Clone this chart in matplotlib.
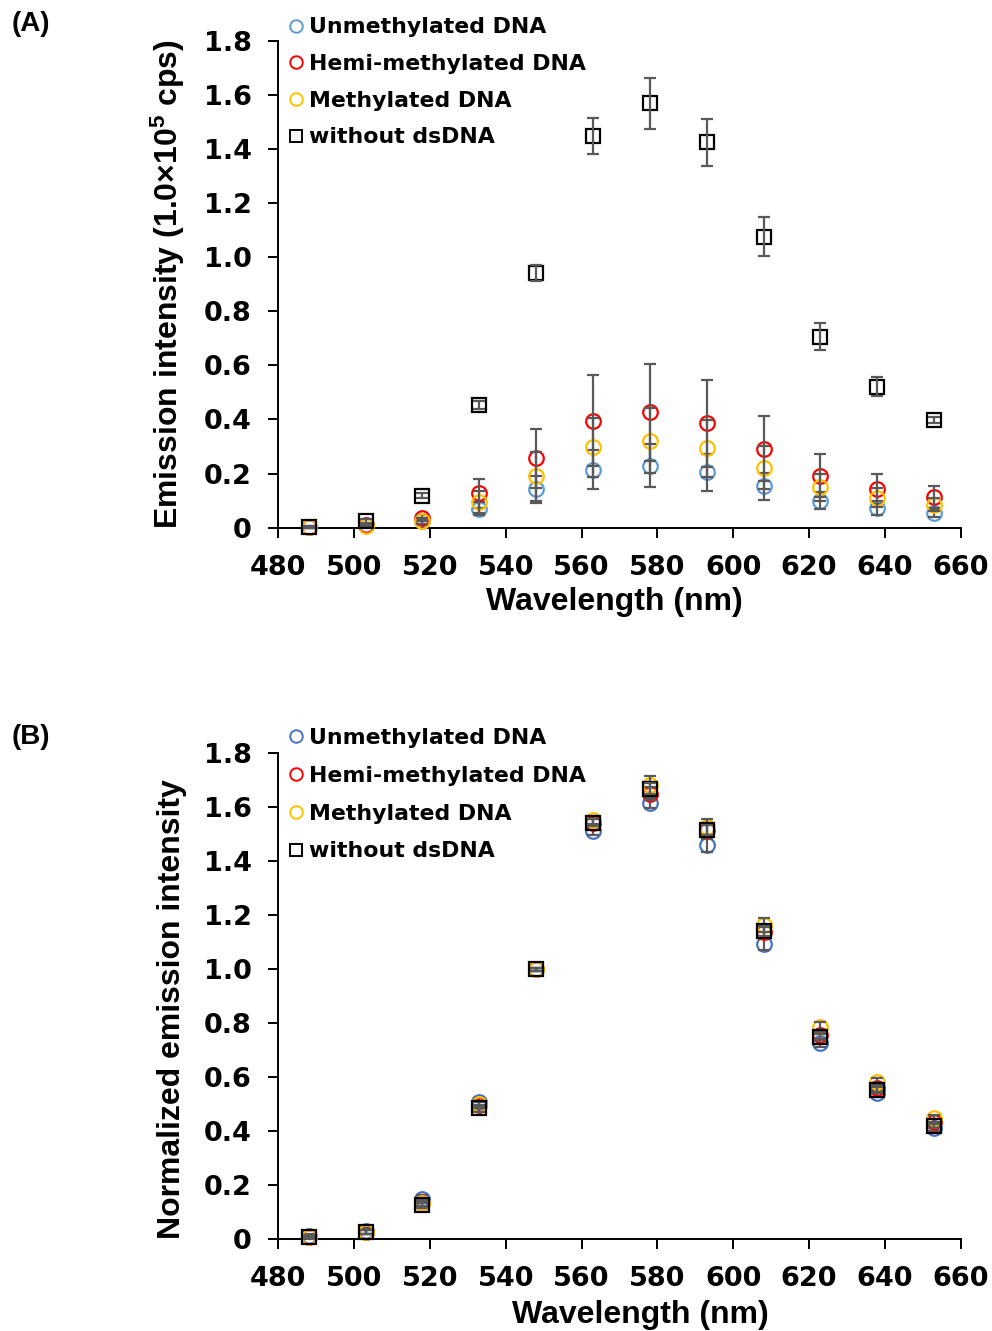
import matplotlib
matplotlib.use("Agg")
import matplotlib.pyplot as plt
from matplotlib.lines import Line2D

plt.rcParams['font.family'] = ['Liberation Sans', 'DejaVu Sans']
plt.rcParams['font.weight'] = 'bold'
plt.rcParams['mathtext.fontset'] = 'custom'
plt.rcParams['mathtext.rm'] = 'Liberation Sans:bold'
plt.rcParams['mathtext.bf'] = 'Liberation Sans:bold'
plt.rcParams['mathtext.default'] = 'bf'

# ---------------- data ----------------
wavelengths = [488, 503, 518, 533, 548, 563, 578, 593, 608, 623, 638, 653]
series_names = ["Unmethylated DNA", "Hemi-methylated DNA", "Methylated DNA", "without dsDNA"]

# Panel A: emission intensity (1.0x10^5 cps)
unmeth_A = [0.002, 0.008, 0.023, 0.069, 0.141, 0.214, 0.229, 0.204, 0.152, 0.100, 0.073, 0.054]
hemi_A = [0.003, 0.010, 0.035, 0.127, 0.257, 0.395, 0.426, 0.385, 0.292, 0.192, 0.144, 0.113]
meth_A = [0.002, 0.006, 0.025, 0.095, 0.190, 0.297, 0.322, 0.293, 0.222, 0.150, 0.110, 0.085]
without_A = [0.003, 0.024, 0.118, 0.454, 0.940, 1.448, 1.568, 1.424, 1.075, 0.706, 0.521, 0.398]

unmeth_A_err = [0.002, 0.004, 0.008, 0.024, 0.049, 0.073, 0.079, 0.068, 0.051, 0.032, 0.025, 0.016]
hemi_A_err = [0.003, 0.005, 0.012, 0.053, 0.109, 0.168, 0.180, 0.161, 0.119, 0.080, 0.056, 0.042]
meth_A_err = [0.002, 0.004, 0.010, 0.040, 0.090, 0.110, 0.120, 0.105, 0.080, 0.050, 0.035, 0.025]
without_A_err = [0.003, 0.008, 0.010, 0.015, 0.030, 0.067, 0.094, 0.087, 0.072, 0.049, 0.035, 0.012]

# Panel B: normalized emission intensity
unmeth_B = [0.012, 0.030, 0.147, 0.508, 1.000, 1.512, 1.616, 1.459, 1.093, 0.725, 0.540, 0.410]
hemi_B = [0.008, 0.026, 0.135, 0.495, 1.000, 1.543, 1.651, 1.515, 1.138, 0.756, 0.558, 0.434]
meth_B = [0.008, 0.027, 0.134, 0.499, 1.000, 1.552, 1.681, 1.527, 1.163, 0.786, 0.583, 0.447]
without_B = [0.006, 0.025, 0.126, 0.484, 1.000, 1.543, 1.669, 1.515, 1.142, 0.749, 0.552, 0.420]

unmeth_B_err = [0.008, 0.010, 0.015, 0.015, 0.005, 0.015, 0.020, 0.025, 0.020, 0.015, 0.012, 0.010]
hemi_B_err = [0.006, 0.008, 0.012, 0.012, 0.005, 0.015, 0.025, 0.020, 0.020, 0.015, 0.012, 0.010]
meth_B_err = [0.006, 0.008, 0.012, 0.012, 0.005, 0.015, 0.035, 0.030, 0.025, 0.020, 0.015, 0.012]
without_B_err = [0.005, 0.008, 0.012, 0.012, 0.005, 0.012, 0.020, 0.018, 0.018, 0.012, 0.010, 0.008]

x_ticks = [480, 500, 520, 540, 560, 580, 600, 620, 640, 660]
y_ticks = [0, 0.2, 0.4, 0.6, 0.8, 1.0, 1.2, 1.4, 1.6, 1.8]
y_ticklabels = ["0", "0.2", "0.4", "0.6", "0.8", "1.0", "1.2", "1.4", "1.6", "1.8"]

colors_A = ["#5B9BD5", "#FF0000", "#FFC000", "#000000"]
colors_B = ["#4472C4", "#FF0000", "#FFC000", "#000000"]
markers = ["o", "o", "o", "s"]
err_color = "#595959"

wide_font = ['DejaVu Sans']

fig = plt.figure(figsize=(9.92, 13.31), dpi=100)
axA = fig.add_axes([0.2806, 0.6036, 0.6879, 0.3658])
axB = fig.add_axes([0.2806, 0.0691, 0.6879, 0.3649])


def draw_panel(ax, ys, errs, colors, ylabel, ylabel_y, xlabel_x, xlabel_y, leg_y, leg_sp):
    for i, (y, e, c, m) in enumerate(zip(ys, errs, colors, markers)):
        ax.plot(wavelengths, y, linestyle='none', marker=m, markersize=10.5 if m == 'o' else 10,
                markerfacecolor='none', markeredgecolor=c, markeredgewidth=1.6,
                zorder=3 + i * 2, clip_on=False)
        ax.errorbar(wavelengths, y, yerr=e, fmt='none', ecolor=err_color, elinewidth=1.6,
                    capsize=4.3, capthick=1.6, zorder=4 + i * 2, clip_on=False)
    ax.set_xlim(480, 660)
    ax.set_ylim(0, 1.8)
    ax.set_xticks(x_ticks)
    ax.set_yticks(y_ticks)
    ax.set_yticklabels(y_ticklabels)
    for s in ['top', 'right']:
        ax.spines[s].set_visible(False)
    for s in ['left', 'bottom']:
        ax.spines[s].set_linewidth(1.4)
        ax.spines[s].set_color('#000000')
    ax.tick_params(axis='both', direction='out', length=7, width=1.4, labelsize=19.5)
    ax.tick_params(axis='y', pad=12)
    ax.tick_params(axis='x', pad=12.5)
    for lbl in ax.get_xticklabels() + ax.get_yticklabels():
        lbl.set_fontweight('bold')
        lbl.set_family(wide_font)
    ax.set_ylabel(ylabel, fontsize=23, fontweight='bold')
    ax.yaxis.set_label_coords(-0.134, ylabel_y)
    ax.set_xlabel("Wavelength (nm)", fontsize=23, fontweight='bold')
    ax.xaxis.set_label_coords(xlabel_x, xlabel_y)

    handles = [Line2D([], [], linestyle='none', marker=m, markersize=9 if m == 'o' else 8.5,
                      markerfacecolor='none', markeredgecolor=c, markeredgewidth=1.4)
               for c, m in zip(colors, markers)]
    leg = ax.legend(handles, series_names, loc='upper left', bbox_to_anchor=(0.0164, leg_y),
                    frameon=False, borderpad=0, borderaxespad=0, handlelength=0.6,
                    handletextpad=0.3, labelspacing=leg_sp,
                    prop={'family': wide_font, 'weight': 'bold', 'size': 15.8})
    return leg


draw_panel(axA, [unmeth_A, hemi_A, meth_A, without_A],
           [unmeth_A_err, hemi_A_err, meth_A_err, without_A_err],
           colors_A, r"Emission intensity (1.0×10$^{5}$ cps)", 0.5, 0.493, -0.122, 1.048, 0.76)
draw_panel(axB, [unmeth_B, hemi_B, meth_B, without_B],
           [unmeth_B_err, hemi_B_err, meth_B_err, without_B_err],
           colors_B, "Normalized emission intensity", 0.4735, 0.530, -0.126, 1.052, 0.81)

fig.text(0.012, 1 - 24 / 1331, "(A)", fontsize=20, fontweight='bold', ha='left', va='center')
fig.text(0.012, 1 - 737 / 1331, "(B)", fontsize=20, fontweight='bold', ha='left', va='center')

fig.savefig("out.png", dpi=100)
